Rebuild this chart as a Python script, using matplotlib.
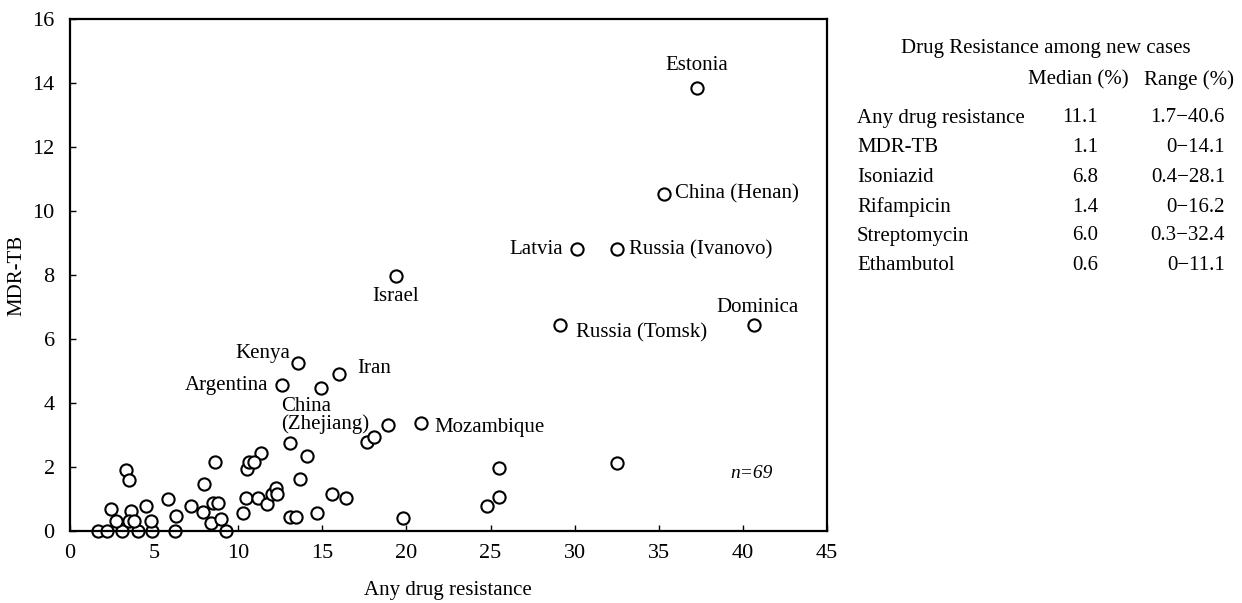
import matplotlib
matplotlib.use('Agg')
import matplotlib.pyplot as plt

plt.rcParams['font.family'] = ['Liberation Serif', 'DejaVu Serif']

# unlabelled settings (any drug resistance %, MDR-TB %)
any_dr = [1.65, 2.18, 3.07, 4.06, 4.86, 6.24, 9.26,
          3.33, 3.51, 2.43, 3.6, 4.5, 2.72, 3.53, 3.8, 4.8,
          5.8, 6.28, 7.2, 7.93, 7.99, 8.62, 8.52, 8.82, 8.38, 8.98,
          13.08, 14.11, 11.34, 10.5, 10.64, 10.96, 13.67, 10.45, 11.2, 11.7,
          11.99, 12.23, 12.29, 10.3, 13.08, 13.42, 14.67, 15.56, 16.39,
          14.9, 17.64, 18.07, 18.93, 19.82, 25.5, 25.5, 24.81, 32.54]
mdr = [0, 0, 0, 0, 0, 0, 0,
       1.91, 1.59, 0.68, 0.62, 0.79, 0.31, 0.31, 0.31, 0.31,
       0.99, 0.48, 0.78, 0.58, 1.47, 2.15, 0.87, 0.87, 0.26, 0.37,
       2.74, 2.34, 2.45, 1.93, 2.15, 2.15, 1.63, 1.04, 1.04, 0.83,
       1.16, 1.33, 1.16, 0.57, 0.43, 0.43, 0.55, 1.15, 1.02,
       4.46, 2.79, 2.93, 3.31, 0.42, 1.98, 1.07, 0.78, 2.13]

# labelled settings
names = ['Estonia', 'China (Henan)', 'Latvia', 'Russia (Ivanovo)', 'Russia (Tomsk)',
         'Dominica', 'Israel', 'Kenya', 'Iran', 'Argentina', 'Mozambique']
names_x = [37.26, 35.33, 30.12, 32.54, 29.13, 40.69, 19.38, 13.54, 16.0, 12.62, 20.85]
names_y = [13.84, 10.53, 8.8, 8.8, 6.44, 6.44, 7.97, 5.24, 4.9, 4.56, 3.38]
# label placement (pixel offsets, alignment)
offs = [(0, 23, 'center'), (11, 0, 'left'), (-14, 0, 'right'), (12, 0, 'left'),
        (16, -8, 'left'), (3, 17, 'center'), (0, -21, 'center'), (-8, 10, 'right'),
        (18, 6, 'left'), (-14, 0, 'right'), (14, -5, 'left')]

tbl_rows = ['Any drug resistance', 'MDR-TB', 'Isoniazid', 'Rifampicin', 'Streptomycin', 'Ethambutol']
tbl_median = ['11.1', '1.1', '6.8', '1.4', '6.0', '0.6']
tbl_range = ['1.7\u221240.6', '0\u221214.1', '0.4\u221228.1', '0\u221216.2', '0.3\u221232.4', '0\u221211.1']

fig = plt.figure(figsize=(12.42, 6.03), dpi=100)
ax = fig.add_axes([70/1242, 72/603, 757/1242, 512/603])

mk = dict(marker='o', ms=8.8, mfc='white', mec='black', mew=1.5, ls='none', clip_on=False)
ax.plot(any_dr, mdr, **mk)
ax.plot(names_x, names_y, **mk)

for n, x, y, (dx, dy, ha) in zip(names, names_x, names_y, offs):
    ax.annotate(n, (x, y), xytext=(dx, dy), textcoords='offset pixels',
                ha=ha, va='center', fontsize=15)
ax.annotate('China\n(Zhejiang)', (14.9, 4.46), xytext=(-40, -27), textcoords='offset pixels',
            ha='left', va='center', fontsize=15, linespacing=0.85)
ax.text(40.5, 1.8, 'n=69', style='italic', fontsize=14, ha='center', va='center')

ax.set_xlim(0, 45)
ax.set_ylim(0, 16)
ax.set_xticks(range(0, 46, 5))
ax.set_yticks(range(0, 17, 2))
ax.tick_params(direction='in', length=4, width=1, labelsize=16)
ax.tick_params(axis='x', pad=9)
ax.tick_params(axis='y', pad=11)
for s in ax.spines.values():
    s.set_linewidth(1.6)
ax.set_xlabel('Any drug resistance', fontsize=15)
ax.set_ylabel('MDR-TB', fontsize=15)
ax.xaxis.set_label_coords(0.499, -0.097)
ax.yaxis.set_label_coords(-0.057, 0.5)

# summary table on the right
fs = 15
fig.text(1046/1242, 1 - 49/603, 'Drug Resistance among new cases', ha='center', va='center', fontsize=fs)
fig.text(1078/1242, 1 - 80/603, 'Median (%)', ha='center', va='center', fontsize=fs)
fig.text(1189/1242, 1 - 80/603, 'Range (%)', ha='center', va='center', fontsize=fs)
row_y = [118, 147, 177, 207, 236, 265]
for r, m, g, yy in zip(tbl_rows, tbl_median, tbl_range, row_y):
    fig.text(857/1242, 1 - yy/603, r, ha='left', va='center', fontsize=fs)
    fig.text(1098/1242, 1 - yy/603, m, ha='right', va='center', fontsize=fs)
    fig.text(1225/1242, 1 - yy/603, g, ha='right', va='center', fontsize=fs)

fig.savefig('out.png', dpi=100)
